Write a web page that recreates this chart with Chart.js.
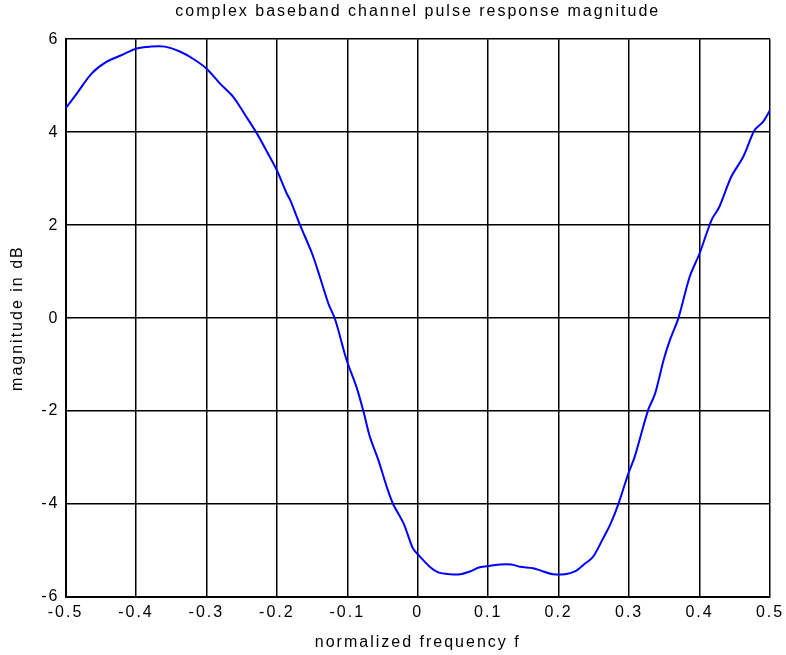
<!DOCTYPE html>
<html>
<head>
<meta charset="utf-8">
<script src="https://cdn.jsdelivr.net/npm/chart.js@4/dist/chart.umd.min.js"></script>
<style>
html,body{margin:0;padding:0;background:#fff;}
#wrap{width:786px;height:655px;}
</style>
</head>
<body>
<div id="wrap"><canvas id="c" width="786" height="655"></canvas></div>
<script>
// normalized frequency f
const freq = [
  -0.500,-0.484,-0.463,-0.442,-0.420,-0.399,-0.380,-0.359,-0.337,-0.319,
  -0.300,-0.281,-0.262,-0.245,-0.229,-0.214,-0.200,-0.186,-0.181,-0.167,
  -0.150,-0.139,-0.127,-0.117,-0.101,-0.087,-0.077,-0.068,-0.056,-0.044,
  -0.035,-0.020,-0.007, 0.000, 0.017, 0.029, 0.046, 0.060, 0.074, 0.088,
   0.103, 0.117, 0.133, 0.145, 0.164, 0.178, 0.192, 0.209, 0.223, 0.235,
   0.249, 0.263, 0.273, 0.285, 0.299, 0.308, 0.327, 0.337, 0.349, 0.358,
   0.370, 0.386, 0.400, 0.417, 0.428, 0.445, 0.462, 0.478, 0.490, 0.500
];
// magnitude in dB
const magnitudeDb = [
   4.51, 4.83, 5.26, 5.51, 5.66, 5.80, 5.84, 5.84, 5.73, 5.58,
   5.37, 5.05, 4.76, 4.37, 3.99, 3.58, 3.18, 2.68, 2.54, 2.00,
   1.39, 0.89, 0.32,-0.04,-0.90,-1.48,-2.01,-2.55,-3.05,-3.63,
  -4.00,-4.42,-4.95,-5.08,-5.35,-5.47,-5.51,-5.51,-5.45,-5.36,
  -5.33,-5.30,-5.30,-5.35,-5.38,-5.45,-5.51,-5.51,-5.45,-5.31,
  -5.13,-4.74,-4.45,-3.99,-3.34,-2.98,-1.98,-1.62,-0.90,-0.47,
   0.00, 0.89, 1.39, 2.11, 2.39, 3.04, 3.47, 4.04, 4.22, 4.47
];
const xTickValues = [-0.5,-0.4,-0.3,-0.2,-0.1,0,0.1,0.2,0.3,0.4,0.5];
const yTickValues = [-6,-4,-2,0,2,4,6];
const titleText = 'complex baseband channel pulse response magnitude';
const xTitle = 'normalized frequency f';
const yTitle = 'magnitude in dB';

const FONT = 'Liberation Sans, Arial, sans-serif';

const spacingPlugin = {
  id: 'spacing',
  beforeInit(chart){ chart.ctx.letterSpacing = '2px'; },
  beforeUpdate(chart){ chart.ctx.letterSpacing = '2px'; },
  beforeDraw(chart){ chart.ctx.letterSpacing = '2px'; }
};

const whiteBg = {
  id: 'whiteBg',
  beforeDraw(chart){
    const ctx = chart.ctx;
    ctx.save();
    ctx.fillStyle = '#fff';
    ctx.fillRect(0,0,chart.width,chart.height);
    ctx.restore();
  }
};

new Chart(document.getElementById('c'), {
  type: 'line',
  data: {
    datasets: [{
      data: freq.map((f,i)=>({x:f, y:magnitudeDb[i]})),
      borderColor: '#0000ff',
      borderWidth: 2,
      pointRadius: 0,
      tension: 0.3,
      fill: false
    }]
  },
  options: {
    responsive: false,
    animation: false,
    layout: { padding: { top: 0, right: 16, left: 0, bottom: 0 } },
    plugins: {
      legend: { display: false },
      tooltip: { enabled: false },
      title: {
        display: true,
        fullSize: false,
        text: titleText,
        color: '#000',
        font: { family: FONT, size: 16, weight: 'normal' },
        padding: { top: 2, bottom: 18 }
      }
    },
    scales: {
      x: {
        type: 'linear',
        min: -0.5, max: 0.5,
        afterBuildTicks(scale){ scale.ticks = xTickValues.map(v=>({value:v})); },
        afterFit(scale){ scale.height = 58; scale.paddingRight = 0; scale.paddingLeft = 0; },
        ticks: {
          color: '#000',
          font: { family: FONT, size: 16 },
          padding: 6,
          maxRotation: 0,
          autoSkip: false,
          callback: v => String(Number(v.toFixed(1)))
        },
        grid: { color: '#000', lineWidth: 1.5, drawTicks: false },
        border: { color: '#000', width: 2 },
        title: {
          display: true,
          text: xTitle,
          color: '#000',
          font: { family: FONT, size: 16 },
          padding: { top: 0, bottom: 3 }
        }
      },
      y: {
        type: 'linear',
        min: -6, max: 6,
        afterBuildTicks(scale){ scale.ticks = yTickValues.map(v=>({value:v})); },
        afterFit(scale){ scale.width = 65.5; },
        ticks: {
          color: '#000',
          font: { family: FONT, size: 16 },
          padding: 6,
          autoSkip: false,
          callback: v => String(v)
        },
        grid: { color: '#000', lineWidth: 1.5, drawTicks: false },
        border: { color: '#000', width: 2 },
        title: {
          display: true,
          text: yTitle,
          color: '#000',
          font: { family: FONT, size: 16 },
          padding: { top: 8, bottom: 0 }
        }
      }
    }
  },
  plugins: [spacingPlugin, whiteBg]
});
</script>
</body>
</html>
